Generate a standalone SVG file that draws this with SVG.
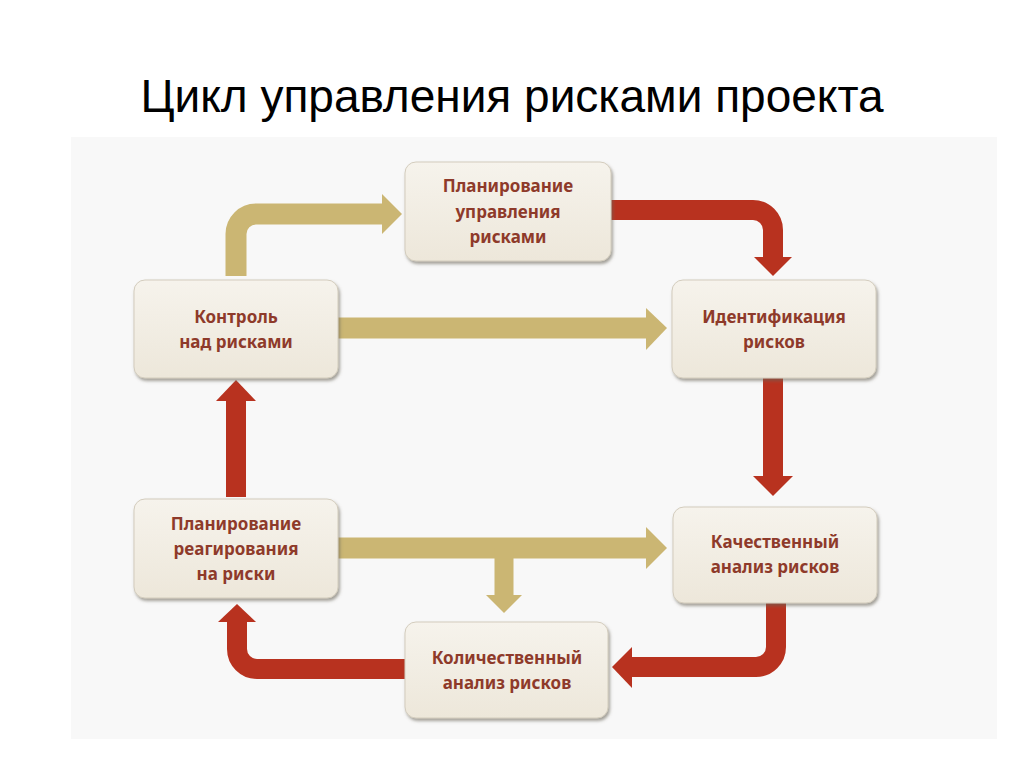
<svg xmlns="http://www.w3.org/2000/svg" width="1024" height="767" viewBox="0 0 1024 767">
<style>
.title{font-family:"Liberation Sans",Arial,sans-serif;font-size:46px;fill:#000}
.box{fill:url(#boxg);stroke:#d3ccbd;stroke-width:1;filter:url(#sh)}
.lbl{font-family:"Noto Sans","Open Sans",sans-serif;font-weight:bold;font-size:17px;fill:#8e3a2a;text-anchor:middle}
.tan{fill:none;stroke:#cbb673;stroke-width:21}
.tanh{fill:#cbb673}
.red{fill:none;stroke:#b8321f;stroke-width:20}
.redh{fill:#b8321f}
</style>
<defs>
<linearGradient id="boxg" x1="0" y1="0" x2="0" y2="1">
<stop offset="0" stop-color="#f6f3ec"/>
<stop offset="1" stop-color="#ede7da"/>
</linearGradient>
<filter id="sh" x="-10%" y="-10%" width="125%" height="130%">
<feDropShadow dx="1.5" dy="2.5" stdDeviation="1.5" flood-color="#6b6658" flood-opacity="0.6"/>
</filter>
</defs>
<rect width="1024" height="767" fill="#ffffff"/>
<text class="title" x="512" y="112" text-anchor="middle">Цикл управления рисками проекта</text>
<rect x="71" y="137" width="926" height="602" fill="#f8f8f8"/>
<g id="connectors">
<path class="tan" d="M236,276 V234 A20,20 0 0 1 256,214 H384"/>
<polygon class="tanh" points="382,194 402,214 382,234"/>
<path class="red" d="M610,210 H753 A20,20 0 0 1 773,230 V259"/>
<polygon class="redh" points="754,257 792,257 773,276"/>
<path class="tan" d="M338,328 H648"/>
<polygon class="tanh" points="646,308 667,328 646,350"/>
<path class="red" d="M773,378 V478"/>
<polygon class="redh" points="753,476 793,476 773,496"/>
<path class="red" d="M776,603 V647 A20,20 0 0 1 756,667 H630"/>
<polygon class="redh" points="632,647 612,667 632,688"/>
<path class="red" d="M405,669 H257 A20,20 0 0 1 237,649 V620"/>
<polygon class="redh" points="218,622 256,622 237,604"/>
<path class="red" d="M236,497 V399"/>
<polygon class="redh" points="216,401 256,401 236,380"/>
<path class="tan" d="M338,548 H648"/>
<polygon class="tanh" points="646,527 667,548 646,569"/>
<path class="tan" d="M504,548 V597" style="stroke-width:19"/>
<polygon class="tanh" points="486,595 522,595 504,613"/>
</g>
<g id="node-plan">
<rect class="box" x="405" y="162" width="206" height="99" rx="11"/>
<text class="lbl" x="508" y="192">Планирование</text>
<text class="lbl" x="508" y="218">управления</text>
<text class="lbl" x="508" y="243">рисками</text>
</g>
<g id="node-control">
<rect class="box" x="134" y="280" width="204" height="98" rx="11"/>
<text class="lbl" x="236" y="323">Контроль</text>
<text class="lbl" x="236" y="348">над рисками</text>
</g>
<g id="node-ident">
<rect class="box" x="672" y="280" width="204" height="98" rx="11"/>
<text class="lbl" x="774" y="323">Идентификация</text>
<text class="lbl" x="774" y="348">рисков</text>
</g>
<g id="node-response">
<rect class="box" x="134" y="499" width="204" height="99" rx="11"/>
<text class="lbl" x="236" y="530">Планирование</text>
<text class="lbl" x="236" y="555">реагирования</text>
<text class="lbl" x="236" y="580">на риски</text>
</g>
<g id="node-qual">
<rect class="box" x="673" y="507" width="204" height="96" rx="11"/>
<text class="lbl" x="775" y="548">Качественный</text>
<text class="lbl" x="775" y="573">анализ рисков</text>
</g>
<g id="node-quant">
<rect class="box" x="405" y="622" width="203" height="96" rx="11"/>
<text class="lbl" x="507" y="664">Количественный</text>
<text class="lbl" x="507" y="689">анализ рисков</text>
</g>
</svg>
